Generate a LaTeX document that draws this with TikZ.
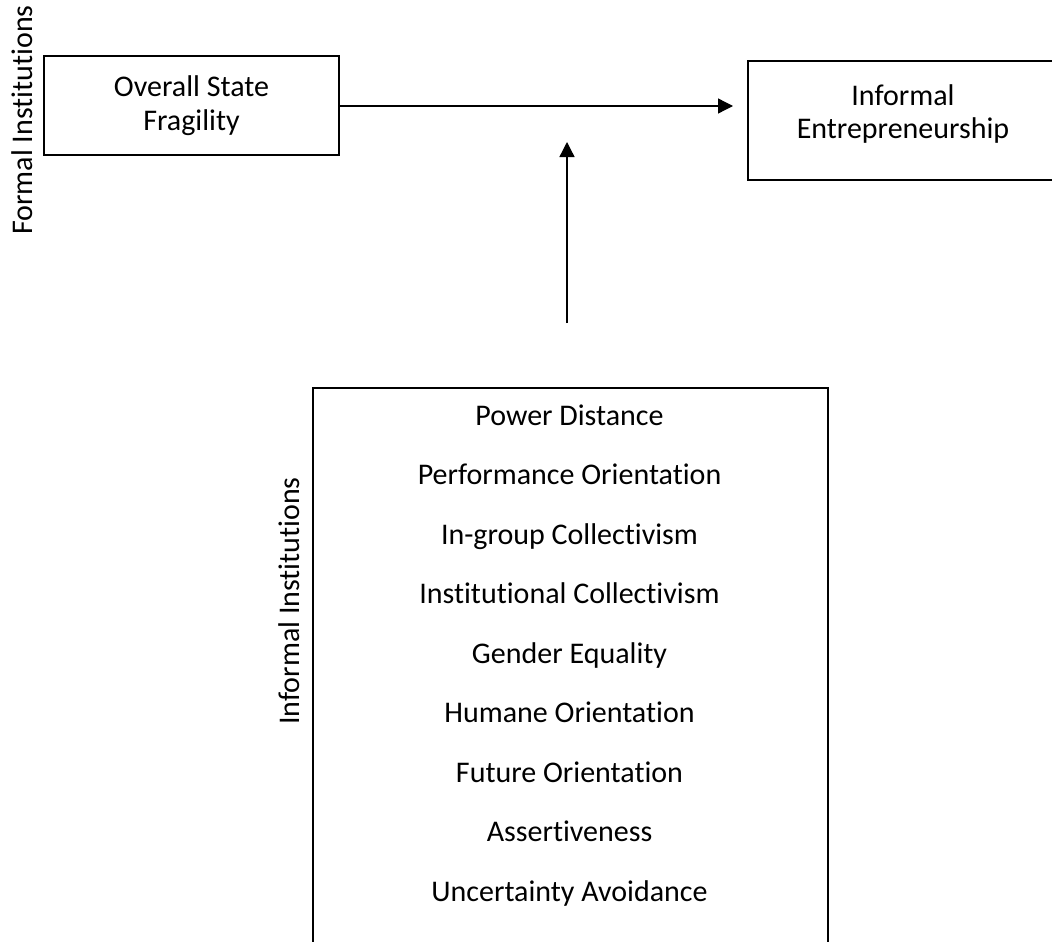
\documentclass[tikz,border=0pt]{standalone}
\usepackage{fontspec}
\setmainfont{Carlito}[Ligatures=NoCommon]
\usetikzlibrary{arrows.meta}
\begin{document}
\begin{tikzpicture}[x=1pt,y=-1pt,
  box/.style={draw=black,line width=1.8pt,rectangle,inner sep=0pt},
  txt/.style={font=\fontsize{30}{33.5}\selectfont,align=center,inner sep=0pt},
  item/.style={txt,text height=21pt,text depth=7pt},
  side/.style={txt,rotate=90},
  link/.style={line width=1.3pt,-{Triangle[length=15pt,width=15pt]}}]
\useasboundingbox (0,0) rectangle (1052,942);
\clip (0,0) rectangle (1052,942);

% formal institutions: predictor box
\node[box,txt,minimum width=295pt,minimum height=99pt] (osf) at (191.5,105.5)
  {Overall State\\Fragility};
\node[side] (formal) at (22,120) {Formal Institutions};

% outcome box (text sits near the top)
\node[box,minimum width=310pt,minimum height=119pt] (ie) at (903,120.5) {};
\node[txt] (ietxt) at (903,114) {Informal\\Entrepreneurship};

% main effect and moderating arrow
\coordinate (htip) at (733,106);
\draw[link] (osf.east |- htip) -- (htip);
\coordinate (vtail) at (567,323);
\coordinate (vtip) at (567,142);
\draw[link] (vtail) -- (vtip);

% informal institutions: cultural dimensions
\node[box,anchor=north west,minimum width=515pt,minimum height=640pt] (cult) at (312,387) {};
\node[side] (informal) at (289,601) {Informal Institutions};
\node[item] (d1) at (569.5,418) {Power Distance};
\node[item] (d2) at (569.5,477.5) {Performance Orientation};
\node[item] (d3) at (569.5,537) {In-group Collectivism};
\node[item] (d4) at (569.5,596.5) {Institutional Collectivism};
\node[item] (d5) at (569.5,656) {Gender Equality};
\node[item] (d6) at (569.5,715.5) {Humane Orientation};
\node[item] (d7) at (569.5,775) {Future Orientation};
\node[item] (d8) at (569.5,834.5) {Assertiveness};
\node[item] (d9) at (569.5,894) {Uncertainty Avoidance};
\end{tikzpicture}
\end{document}
